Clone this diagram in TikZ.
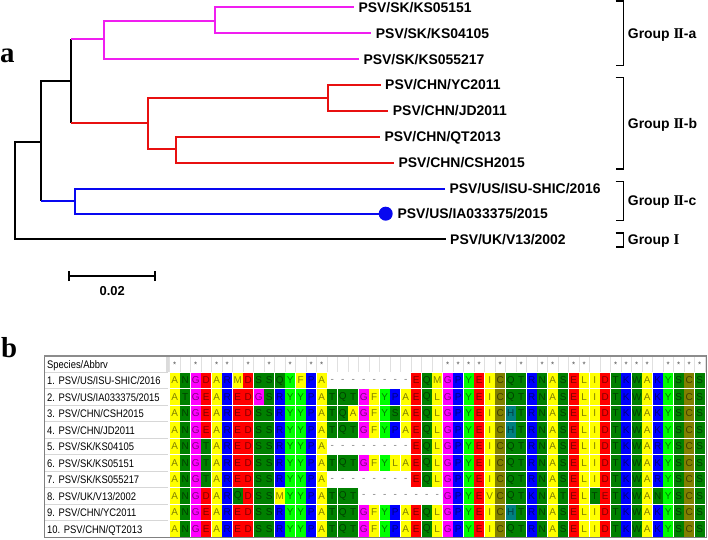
\documentclass[tikz,border=0pt]{standalone}
\usepackage{fontspec}
\setmainfont{Liberation Serif}
\setsansfont{Liberation Sans}
\newfontfamily\tabfont[FakeStretch=0.86]{Liberation Sans}
\newcommand\romII{{\rmfamily\bfseries\fontsize{15}{15}\selectfont I\kern-1.3bp I}}
\newcommand\romI{{\rmfamily\bfseries\fontsize{15}{15}\selectfont I}}
\definecolor{mag}{RGB}{240,30,240}
\definecolor{tred}{RGB}{232,16,16}
\definecolor{tblue}{RGB}{8,8,240}
\definecolor{cY}{RGB}{255,255,0}
\definecolor{cDG}{RGB}{0,128,0}
\definecolor{cM}{RGB}{255,0,255}
\definecolor{cR}{RGB}{255,0,0}
\definecolor{cB}{RGB}{0,0,255}
\definecolor{cLG}{RGB}{0,255,0}
\definecolor{cO}{RGB}{128,128,0}
\definecolor{cT}{RGB}{0,128,128}
\definecolor{cW}{RGB}{255,255,255}
\definecolor{sepgray}{RGB}{215,215,215}
\def\setaa#1#2{\expandafter\def\csname aa@#1\endcsname{#2}}
\setaa{A}{cY}\setaa{M}{cY}\setaa{F}{cY}\setaa{L}{cY}\setaa{I}{cY}\setaa{V}{cY}
\setaa{N}{cDG}\setaa{S}{cDG}\setaa{T}{cDG}\setaa{Q}{cDG}\setaa{W}{cDG}
\setaa{G}{cM}
\setaa{D}{cR}\setaa{E}{cR}
\setaa{R}{cB}\setaa{K}{cB}\setaa{P}{cB}
\setaa{Y}{cLG}
\setaa{C}{cO}
\setaa{H}{cT}
\setaa{-}{cW}
\newcommand\seqrow[2]{%
  \foreach \res [count=\ci] in {#2} {%
    \edef\bg{\csname aa@\res\endcsname}%
    \node[cell, fill=\bg, text=\bg!50!black, name=c#1-\ci]
      at ({174.7+(\ci-1)*10.5},{364+16.5*#1}) {\res};
  }%
}
\begin{document}
\begin{tikzpicture}[x=1bp,y=-1bp,
  br/.style={line width=2bp},
  leaf/.style={font=\sffamily\bfseries\fontsize{14}{14}\selectfont, anchor=west,
    inner xsep=4.5bp, inner ysep=0pt, text height=10bp, text depth=0bp},
  grp/.style={font=\sffamily\bfseries\fontsize{14}{14}\selectfont, anchor=west,
    inner sep=0pt, text height=10bp, text depth=0bp},
  bracket/.style={line width=1.6bp, black},
  cell/.style={minimum width=9.6bp, minimum height=15.6bp, inner sep=0pt,
    font=\sffamily\fontsize{10}{10}\selectfont},
  rowlab/.style={font=\tabfont\fontsize{11}{11}\selectfont, anchor=west, inner sep=0pt,
    text height=8bp, text depth=0bp},
  star/.style={font=\sffamily\fontsize{8}{8}\selectfont, text=black!70, inner sep=0pt},
  panel/.style={font=\rmfamily\bfseries\fontsize{29}{29}\selectfont, anchor=base west, inner sep=0pt},
]
\useasboundingbox (0,0) rectangle (708,540);

% ---------------- panel a: tree ----------------
\node[panel] (pa) at (0,62.7) {a};

\node[leaf] (l1) at (353.8,7.3) {PSV/SK/KS05151};
\node[leaf] (l2) at (371.2,33.3) {PSV/SK/KS04105};
\node[leaf] (l3) at (358.8,59.3) {PSV/SK/KS055217};
\node[leaf] (l4) at (380.5,85) {PSV/CHN/YC2011};
\node[leaf] (l5) at (388.2,111) {PSV/CHN/JD2011};
\node[leaf] (l6) at (379.8,136.7) {PSV/CHN/QT2013};
\node[leaf] (l7) at (393.8,162.7) {PSV/CHN/CSH2015};
\node[leaf] (l8) at (444.8,188.7) {PSV/US/ISU-SHIC/2016};
\node[circle, fill=tblue, inner sep=0pt, minimum size=14bp] (dot) at (385.7,213.7) {};
\node[leaf] (l9) at (392.8,213.7) {PSV/US/IA033375/2015};
\node[leaf] (l10) at (445.5,239.3) {PSV/UK/V13/2002};

\coordinate (root) at (15,190);
\coordinate (nA) at (40.7,141.7);
\coordinate (nB) at (71,81);
\coordinate (nC) at (75.3,201);
\coordinate (nD) at (104.3,39.3);
\coordinate (nE) at (215,20.7);
\coordinate (nF) at (147.7,123.3);
\coordinate (nG) at (328.3,98.3);
\coordinate (nH) at (176,149.3);

% black backbone
\draw[br] (nA) -| (root) |- (l10.west);
\draw[br] (nB) -| (nA) -- (nA |- nC);
\draw[br] (nB |- nD) -- (nB |- nF);
% magenta clade
\draw[br,mag] (nB |- nD) -- (nD);
\draw[br,mag] (nE) -| (nD) |- (l3.west);
\draw[br,mag] (l1.west) -| (nE) |- (l2.west);
% red clade
\draw[br,tred] (nB |- nF) -- (nF);
\draw[br,tred] (nG) -| (nF) |- (nH);
\draw[br,tred] (l4.west) -| (nG) |- (l5.west);
\draw[br,tred] (l6.west) -| (nH) |- (l7.west);
% blue clade
\draw[br,tblue] (nA |- nC) -- (nC);
\draw[br,tblue] (l8.west) -| (nC) |- (dot.west);

% group brackets
\draw[bracket] (615.7,0.8) -- (623.3,0.8) -- (623.3,65.7) -- (615.7,65.7);
\draw[bracket] (615.7,77.7) -- (623.3,77.7) -- (623.3,169.3) -- (615.7,169.3);
\draw[bracket] (615.7,181.7) -- (623.3,181.7) -- (623.3,220.7) -- (615.7,220.7);
\draw[bracket] (615.7,233.3) -- (623.3,233.3) -- (623.3,247.3) -- (615.7,247.3);
\node[grp] (g1) at (627.7,33.3) {Group \romII-a};
\node[grp] (g2) at (627.7,123.3) {Group \romII-b};
\node[grp] (g3) at (627.7,200.7) {Group \romII-c};
\node[grp] (g4) at (627.7,239.3) {Group \romI};

% scale bar
\coordinate (sb1) at (69,276);
\coordinate (sb2) at (155.3,276);
\draw[line width=1.8bp] (sb1) -- (sb2);
\draw[line width=1.8bp] ([yshift=-5bp]sb1) -- ([yshift=5bp]sb1);
\draw[line width=1.8bp] ([yshift=-5bp]sb2) -- ([yshift=5bp]sb2);
\node[font=\sffamily\bfseries\fontsize{13}{13}\selectfont, inner sep=0pt] (sbl) at (112.3,290.7) {0.02};

% ---------------- panel b: alignment ----------------
\node[panel] (pb) at (1,357) {b};

\fill[white] (44,355.75) rectangle (706,537.25);
% label column separators
\foreach \i in {0,...,9} \draw[sepgray, line width=0.8bp] (44,{372.25+16.5*\i}) -- (168,{372.25+16.5*\i});
\fill[black!14] (165.5,356.5) rectangle (168.5,372.25);
% header column separators
\foreach \j in {0,...,51} \draw[black!12, line width=0.6bp] ({169.45+10.5*\j},356.5) -- ({169.45+10.5*\j},372.25);

\node[rowlab] (hdr) at (47,364) {Species/Abbrv};
\foreach \j in {1,3,5,6,8,10,12,14,15,27,28,29,30,32,34,36,37,39,40,43,44,45,46,48,49,50,51}
  \node[star] (st\j) at ({174.7+10.5*(\j-1)},364.5) {*};

\foreach \lab [count=\i] in {1. PSV/US/ISU-SHIC/2016, 2. PSV/US/IA033375/2015, 3. PSV/CHN/CSH2015,
  4. PSV/CHN/JD2011, 5. PSV/SK/KS04105, 6. PSV/SK/KS05151, 7. PSV/SK/KS055217,
  8. PSV/UK/V13/2002, 9. PSV/CHN/YC2011, 10. PSV/CHN/QT2013}
  \node[rowlab] (r\i) at (47,{364+16.5*\i}) {\lab};

\seqrow{1}{A,N,G,D,A,R,M,D,S,S,Q,Y,F,P,A,-,-,-,-,-,-,-,-,E,Q,M,G,P,Y,E,I,C,Q,T,R,N,A,S,E,L,I,D,T,K,W,A,K,Y,S,C,S}
\seqrow{2}{A,T,G,E,A,R,E,D,G,S,R,Y,Y,P,A,T,Q,T,G,F,Y,P,A,E,Q,L,G,P,Y,E,I,C,Q,T,R,N,A,S,E,L,I,D,T,K,W,A,K,Y,S,C,S}
\seqrow{3}{A,N,G,E,A,R,E,D,S,S,R,Y,Y,P,A,T,Q,A,G,F,Y,S,A,E,Q,L,G,P,Y,E,I,C,H,T,R,N,A,S,E,L,I,D,T,K,W,A,K,Y,S,C,S}
\seqrow{4}{A,N,G,E,A,R,E,D,S,S,R,Y,Y,P,A,T,Q,T,G,F,Y,P,A,E,Q,L,G,P,Y,E,I,C,H,T,R,N,A,S,E,L,I,D,T,K,W,A,K,Y,S,C,S}
\seqrow{5}{A,N,G,T,A,R,E,D,S,S,R,Y,Y,P,A,-,-,-,-,-,-,-,-,E,Q,L,G,P,Y,E,I,C,Q,T,R,N,A,S,E,L,I,D,T,K,W,A,R,Y,S,C,S}
\seqrow{6}{A,N,G,T,A,R,E,D,S,S,R,Y,Y,P,A,T,Q,T,G,F,Y,L,A,E,Q,L,G,P,Y,E,I,C,Q,T,R,N,A,S,E,L,I,D,T,K,W,A,K,Y,S,C,S}
\seqrow{7}{A,N,G,T,A,R,E,D,S,S,R,Y,Y,P,A,-,-,-,-,-,-,-,-,E,Q,L,G,P,Y,E,I,C,Q,T,R,N,A,S,E,L,I,D,T,K,W,A,R,Y,S,C,S}
\seqrow{8}{A,N,G,D,A,R,Q,D,S,S,M,Y,Y,P,A,T,Q,T,-,-,-,-,-,-,-,-,G,P,Y,E,V,C,Q,T,K,N,A,T,E,L,T,E,T,K,W,A,N,Y,S,C,S}
\seqrow{9}{A,N,G,E,A,R,E,D,S,S,R,Y,Y,P,A,T,Q,T,G,F,Y,P,A,E,Q,L,G,P,Y,E,I,C,H,T,R,N,A,S,E,L,I,D,T,K,W,A,K,Y,S,C,S}
\seqrow{10}{A,N,G,E,A,R,E,D,S,S,R,Y,Y,P,A,T,Q,T,G,F,Y,P,A,E,Q,L,G,P,Y,E,I,C,Q,T,R,N,A,S,E,L,I,D,T,K,W,A,K,Y,S,C,S}

% table frame
\draw[black!50, line width=0.8bp] (44,355.75) rectangle (706,537.25);
\draw[black!45, line width=2bp] (44,356.2) -- (706,356.2);
\end{tikzpicture}
\end{document}
